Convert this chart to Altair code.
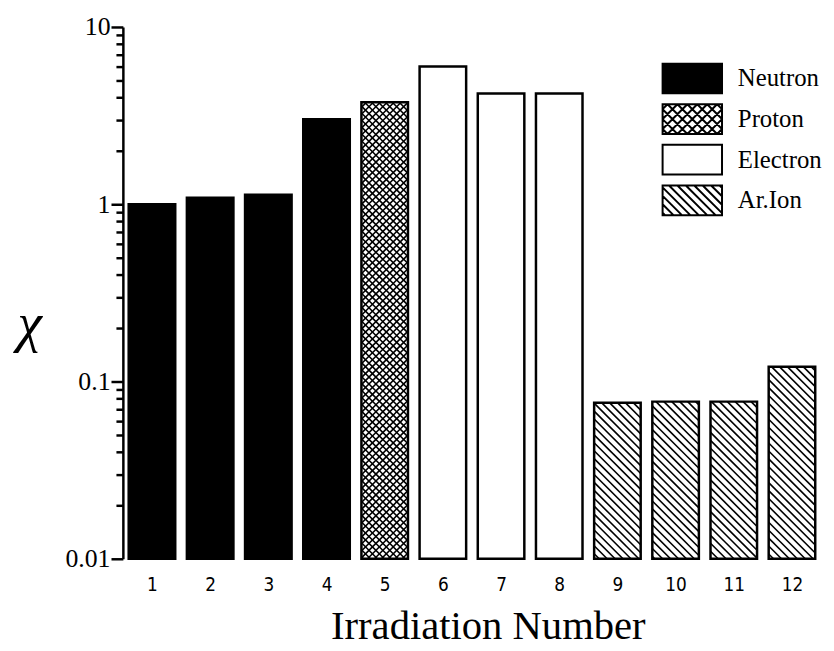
import math
import altair as alt
import pandas as pd

# ---------------- data ----------------
irradiation = list(range(1, 13))
particle = ["Neutron"] * 4 + ["Proton"] + ["Electron"] * 3 + ["Ar.Ion"] * 4
chi = [1.0, 1.09, 1.13, 3.02, 3.76, 5.98, 4.22, 4.22, 0.076, 0.077, 0.077, 0.121]
categories = ["Neutron", "Proton", "Electron", "Ar.Ion"]
category_fill = ["black", "white", "white", "white"]
category_stroke = ["black", "black", "black", "black"]
major_ticks = [0.01, 0.1, 1, 10]
minor_ticks = [m * 10 ** e for e in (-2, -1, 0) for m in range(2, 10)]
x_title = "Irradiation Number"
y_title = "χ"

# ---------------- layout / style constants ----------------
W, H = 705, 537
X_MIN, X_MAX = 0.5, 12.5
Y_MIN, Y_MAX = 0.01, 10.0
HALF = 0.4                     # half bar width in x units
BAND = W / (X_MAX - X_MIN)
DECADES = math.log10(Y_MAX) - math.log10(Y_MIN)
SERIF = "Liberation Serif"
NARROW = "DejaVu Sans Condensed"


def px_x(x):
    return (x - X_MIN) * BAND


def x_of(px):
    return px / BAND + X_MIN


def px_y(v):
    return H * (math.log10(Y_MAX) - math.log10(v)) / DECADES


def y_of(py):
    return 10 ** (math.log10(Y_MAX) - py / H * DECADES)


def hatch(L, R, T, B, s, direction, minlen=0.0):
    segs = []
    if direction == "back":          # "\"  : x - y = d
        k0, k1 = math.floor((L - B) / s), math.ceil((R - T) / s)
        for k in range(k0, k1 + 1):
            d = k * s
            lo, hi = max(T, L - d), min(B, R - d)
            if hi - lo > minlen:
                segs.append((lo + d, lo, hi + d, hi))
    else:                            # "/"  : x + y = e
        k0, k1 = math.floor((L + T) / s), math.ceil((R + B) / s)
        for k in range(k0, k1 + 1):
            e = k * s
            lo, hi = max(T, e - R), min(B, e - L)
            if hi - lo > minlen:
                segs.append((e - lo, lo, e - hi, hi))
    return segs


hatch_style = {"Proton": (7.0, ["back", "fwd"]), "Ar.Ion": (8.0, ["back"])}

bars = pd.DataFrame({"n": irradiation, "particle": particle, "chi": chi})
bars["x0"] = bars["n"] - HALF
bars["x1"] = bars["n"] + HALF
bars["base"] = Y_MIN

rows = []
for n, p, v in zip(irradiation, particle, chi):
    if p not in hatch_style:
        continue
    s, dirs = hatch_style[p]
    L, R = px_x(n - HALF), px_x(n + HALF)
    T, B = px_y(v), px_y(Y_MIN)
    for d in dirs:
        for (ax, ay, bx, by) in hatch(L, R, T, B, s, d, 0.5):
            rows.append({"x": x_of(ax), "y": y_of(ay), "x2": x_of(bx), "y2": y_of(by)})
lines = pd.DataFrame(rows)


# legend symbol paths (symbol space: swatch spans [-2,2] x [-1,1])
RECT = "M-2,-1H2V1H-2Z"


def symbol_path(s, dirs):
    path = RECT
    for d in dirs:
        for (ax, ay, bx, by) in hatch(-2, 2, -1, 1, s, d, 0.02):
            path += f"M{ax:.3f},{ay:.3f}L{bx:.3f},{by:.3f}"
    return path


legend_spacing = {"Proton": 0.667, "Ar.Ion": 0.567}
paths = []
for c in categories:
    if c in hatch_style:
        paths.append(symbol_path(legend_spacing[c], hatch_style[c][1]))
    else:
        paths.append(RECT)

legend_df = pd.DataFrame({"particle": categories})

x_scale = alt.Scale(domain=[X_MIN, X_MAX], nice=False, zero=False)
y_scale = alt.Scale(type="log", domain=[Y_MIN, Y_MAX], nice=False)

major_test = "abs(log(datum.value)/LN10 - round(log(datum.value)/LN10)) < 1e-6"
y_axis = alt.Axis(
    values=sorted(major_ticks + minor_ticks),
    labelExpr=f"{major_test} ? format(datum.value, '~g') : ''",
    tickSize={"condition": {"test": major_test, "value": 12}, "value": 7},
    tickWidth=2.5, tickColor="black",
    domainWidth=2.5, domainColor="black",
    labelFont=SERIF, labelFontSize=26, labelColor="black",
    labelPadding=1, grid=False, title=None,
)
x_axis = alt.Axis(
    values=irradiation, format="d", domain=False, ticks=False, grid=False,
    labelFont=NARROW, labelFontSize=19, labelFontWeight="normal",
    labelColor="black", labelPadding=17, title=None,
)

bar_layer = alt.Chart(bars).mark_rect(stroke="black", strokeWidth=2.5).encode(
    x=alt.X("x0:Q", scale=x_scale, axis=x_axis),
    x2="x1:Q",
    y=alt.Y("chi:Q", scale=y_scale, axis=y_axis),
    y2="base:Q",
    fill=alt.condition("datum.particle == 'Neutron'", alt.value("black"), alt.value("white")),
)

hatch_layer = alt.Chart(lines).mark_rule(color="black", strokeWidth=1.6).encode(
    x="x:Q", x2="x2:Q", y="y:Q", y2="y2:Q"
)

legend_spec = alt.Legend(
    title=None, orient="none", legendX=559, legendY=36, padding=0,
    symbolSize=900, symbolStrokeColor="black", symbolStrokeWidth=2, symbolOpacity=1,
    labelFont=SERIF, labelFontSize=25, labelColor="black",
    labelOffset=30, rowPadding=3, labelLimit=300,
)
legend_layer = alt.Chart(legend_df).mark_point(
    filled=True, opacity=0, strokeWidth=2
).encode(
    x=alt.value(0), y=alt.value(0),
    fill=alt.Fill("particle:N", scale=alt.Scale(domain=categories, range=category_fill),
                  legend=legend_spec),
    stroke=alt.Stroke("particle:N", scale=alt.Scale(domain=categories, range=category_stroke),
                      legend=legend_spec),
    shape=alt.Shape("particle:N", scale=alt.Scale(domain=categories, range=paths),
                    legend=legend_spec),
)

xtitle_layer = alt.Chart(pd.DataFrame({"t": [x_title]})).mark_text(
    font=SERIF, fontSize=41, color="black", align="center", baseline="alphabetic"
).encode(text="t:N", x=alt.value(369), y=alt.value(H + 81))

ytitle_layer = alt.Chart(pd.DataFrame({"t": [y_title]})).mark_text(
    font=SERIF, fontSize=56, fontStyle="italic", color="black", align="center",
    baseline="middle"
).encode(text="t:N", x=alt.value(-94), y=alt.value(300))

chart = alt.layer(bar_layer, hatch_layer, legend_layer, xtitle_layer, ytitle_layer).properties(
    width=W, height=H,
    autosize=alt.AutoSizeParams(type="none"),
    padding={"left": 116, "top": 16, "right": 5, "bottom": 95},
    background="white",
).configure_view(stroke=None)

chart.save("out.html", embed_options={"renderer": "svg", "actions": False})
